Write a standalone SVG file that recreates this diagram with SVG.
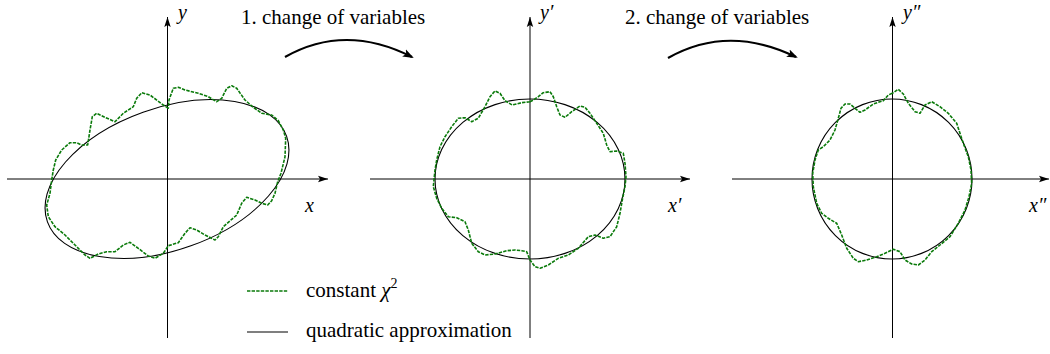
<svg xmlns="http://www.w3.org/2000/svg" width="1050" height="354" viewBox="0 0 1050 354">
<defs>
<style>
.t{font-size:21px}
.m{font-size:20px;font-style:italic}
.axis{stroke:#000;stroke-width:1;fill:none;marker-end:url(#ax)}
.quad{stroke:#000;stroke-width:1.1;fill:none}
.chi{stroke:#0a7a0a;stroke-width:1.6;fill:none;stroke-dasharray:3.4 1.2;stroke-linejoin:round;stroke-linecap:butt}
.arc{stroke:#000;stroke-width:2.2;fill:none;marker-end:url(#ah)}
</style>
<marker id="ax" markerWidth="10" markerHeight="8" refX="10" refY="4" orient="auto" markerUnits="userSpaceOnUse">
<path d="M0,0.8 L10,4 L0,7.2 L2,4 z" fill="#000"/>
</marker>
<marker id="ah" markerWidth="12" markerHeight="10" refX="9" refY="5" orient="auto" markerUnits="userSpaceOnUse">
<path d="M0,1 L11,5 L0,9 L2.5,5 z" fill="#000"/>
</marker>
</defs>
<rect width="1050" height="354" fill="#fff"/>
<g font-family="'Liberation Serif', 'DejaVu Serif', serif" fill="#000">

<g id="panel1">
<line class="axis" x1="7" y1="179" x2="328" y2="179"/>
<line class="axis" x1="167.5" y1="338" x2="167.5" y2="17"/>
<text class="m" x="178" y="19">y</text>
<text class="m" x="305" y="212">x</text>
<ellipse class="quad" cx="167" cy="179" rx="127" ry="71" transform="rotate(-19.7 167 179)"/>
<path class="chi" d="M168.3,108.3 L163.3,105 L150,95 L141.7,92.7 L136.7,98.3 L133.3,106.7 L123.3,113.3 L115,121.7 L105,117.3 L96.7,113.3 L92.3,116.7 L90,130 L87.7,145 L81.7,145 L76.7,142.7 L70,142.7 L61.7,150 L55.7,160 L53.3,170 L51.7,180 L50,193.3 L46.7,205 L48.3,216.7 L55,226.7 L65,235 L75,245 L85,255 L90,258.3 L98.3,254 L106.7,251.7 L115,251.7 L123.3,245 L130,242.3 L138.3,248.3 L148.3,256 L155,258.3 L163.3,253.3 L168.3,245.7 L178.3,242.7 L185,233.3 L190,227.7 L196.7,230 L205,235 L215,240 L218.3,236.7 L223.3,226.7 L231.7,219.3 L236.7,215 L241.7,203.3 L246.7,197.3 L255,200 L261.7,203.3 L267.7,205 L271.7,200.7 L275,193.3 L277.7,181.7 L281,173.3 L285,156.7 L285.7,138.3 L283.3,130 L278.3,120.7 L271.7,115 L261.7,113.3 L253.3,107.3 L245,100 L236.7,88.3 L231.7,85.7 L226.7,88.3 L221.7,98.3 L216.7,101.7 L208.3,96.7 L198.3,93.3 L185,90 L178.3,87.3 L173.3,88.3 L169,100 Z"/>
</g>

<g id="panel2">
<line class="axis" x1="370" y1="179" x2="690" y2="179"/>
<line class="axis" x1="530" y1="338" x2="530" y2="17"/>
<text class="m" x="540" y="19">y′</text>
<text class="m" x="668" y="212">x′</text>
<ellipse class="quad" cx="530" cy="179" rx="95" ry="80"/>
<path class="chi" d="M530,101.7 L521.7,102.7 L512.3,105 L505,100.7 L500,93.3 L495,91 L490,96.7 L485,106.7 L478.3,118.3 L471.7,121.7 L465,117.7 L458.3,118.3 L451.7,126.7 L445,136.7 L440,146.7 L436.7,160 L435,170 L433.3,186.7 L436.7,198.3 L441.7,208.3 L448.3,216.7 L456.7,217.7 L465,221.7 L468.3,230 L471.7,243.3 L478.3,251.7 L485,255 L495,254 L506.7,250.7 L515,250 L521.7,250.7 L526.7,251.7 L530,260 L535,266.7 L540,268.3 L548.3,265 L558.3,258.3 L568.3,255 L578.3,248.3 L588.3,236.7 L595,235 L603.3,238.3 L610,236.7 L616.7,226.7 L620,213.3 L622.3,200 L625,186.7 L626,176.7 L625,163.3 L623.3,153.3 L616.7,151 L610,151.7 L606.7,145 L603.3,133.3 L596.7,123.3 L590,113.3 L585,107.3 L580,106 L571.7,111.7 L565,117.3 L560,115 L556.7,106.7 L553.3,96.7 L550,91.7 L543.3,92.7 L538.3,96.7 L533.3,100 Z"/>
</g>

<g id="panel3">
<line class="axis" x1="732" y1="179" x2="1049" y2="179"/>
<line class="axis" x1="892.5" y1="338" x2="892.5" y2="17"/>
<text class="m" x="903" y="19">y″</text>
<text class="m" x="1029" y="212">x″</text>
<ellipse class="quad" cx="892" cy="179" rx="80" ry="80"/>
<path class="chi" d="M892.3,93.3 L888.3,95 L883.3,100.7 L873.3,104 L865,110 L860,112.3 L855,108.3 L850,104 L845,104 L841,108.3 L838.3,118.3 L835,130 L830,140 L823.3,146.7 L818.3,150 L815,160 L812.7,173.3 L813.3,186.7 L816.7,203.3 L821.7,213.3 L828.3,218.3 L836.7,223.3 L841.7,235 L846.7,248.3 L853.3,258.3 L858.3,261.7 L866.7,260 L876.7,256.7 L885,253.3 L893.3,249.3 L900,251.7 L905,260 L911.7,264 L918.3,265 L925,260 L931.7,251.7 L940,245 L950,236.7 L958.3,223.3 L965,210 L969,196.7 L971.7,183.3 L971,170 L968.3,156.7 L963.3,143.3 L960,133.3 L956.7,123.3 L948.3,113.3 L940,106.7 L931.7,101.7 L925,105 L920,113.3 L915,111.7 L908.3,103.3 L903.3,94 L898.3,89.3 Z"/>
</g>

<g id="connectors">
<path class="arc" d="M285,57 Q345,23 412,57"/>
<path class="arc" d="M668,58 Q728,24 796,57"/>
</g>
<g id="labels">
<text class="t" x="241" y="24">1. change of variables</text>
<text class="t" x="625" y="24">2. change of variables</text>
</g>

<g id="legend">
<line class="chi" x1="247" y1="291" x2="288" y2="291"/>
<text class="t" x="306" y="297">constant <tspan font-style="italic">χ</tspan><tspan font-size="14" dy="-9">2</tspan></text>
<line class="quad" x1="247" y1="332" x2="288" y2="332"/>
<text class="t" x="306" y="337">quadratic approximation</text>
</g>
</g>
</svg>
